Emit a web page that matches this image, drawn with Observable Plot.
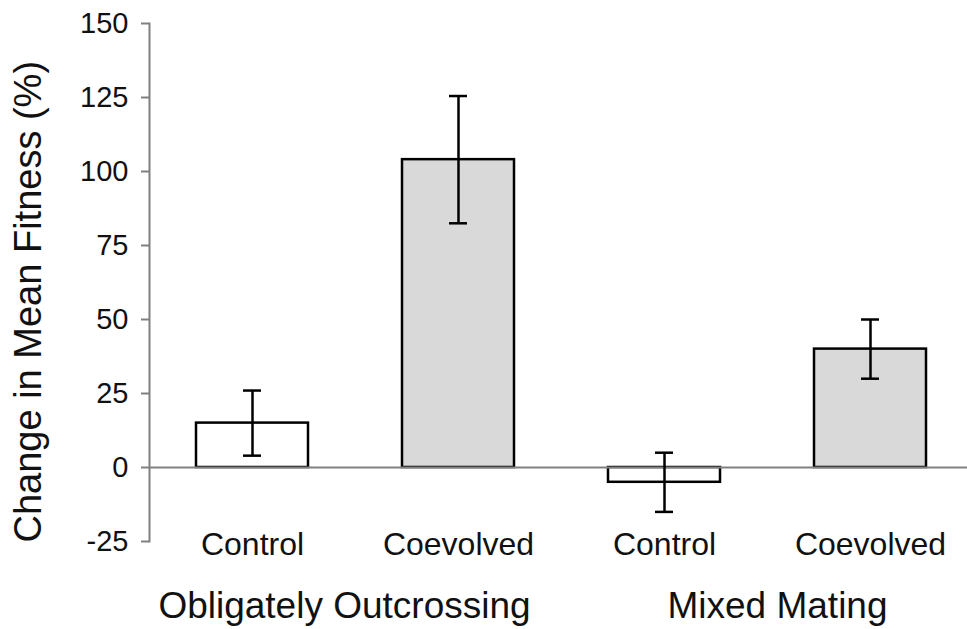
<!DOCTYPE html>
<html>
<head>
<meta charset="utf-8">
<script src="https://cdn.jsdelivr.net/npm/d3@7"></script>
<script src="https://cdn.jsdelivr.net/npm/@observablehq/plot@0.6"></script>
<style>
  html, body { margin: 0; padding: 0; background: #fff; }
</style>
</head>
<body>
<div id="chart"></div>
<script>
// Change in mean fitness by mating system and treatment (mean ± error)
const groups = ["Obligately Outcrossing", "Obligately Outcrossing", "Mixed Mating", "Mixed Mating"];
const treatments = ["Control", "Coevolved", "Control", "Coevolved"];
const meanChange = [15, 104, -5, 40];
const errorHalf = [11, 21.5, 10, 10];
const yTicks = [-25, 0, 25, 50, 75, 100, 125, 150];
const groupNames = ["Obligately Outcrossing", "Mixed Mating"];
const yLabel = "Change in Mean Fitness (%)";

const rows = treatments.map((t, i) => ({
  key: `${groups[i]} · ${t}`,
  group: groups[i],
  treatment: t,
  mean: meanChange[i],
  lo: meanChange[i] - errorHalf[i],
  hi: meanChange[i] + errorHalf[i]
}));
const keys = rows.map(d => d.key);
const treatmentOf = new Map(rows.map(d => [d.key, d.treatment]));
// each group label hangs off its first bar, shifted towards the middle of its pair
const groupRows = groupNames.map(g => ({group: g, key: rows.find(d => d.group === g).key}));
const groupShift = [92, 113];

const ink = "#111";
const axisGray = "#808080";

const chart = Plot.plot({
  width: 967,
  height: 629,
  marginLeft: 149,
  marginRight: 0,
  marginTop: 23,
  marginBottom: 88,
  style: {fontFamily: "'Liberation Sans', Arial, sans-serif", color: ink, background: "#fff"},
  x: {domain: keys, range: [149, 973], paddingInner: 0.456, paddingOuter: 0.228},
  y: {domain: [-25, 150]},
  color: {domain: ["Control", "Coevolved"], range: ["#ffffff", "#d9d9d9"]},
  marks: [
    Plot.barY(rows, {x: "key", y: "mean", fill: "treatment", stroke: "#000", strokeWidth: 2.5}),
    Plot.ruleY([0], {stroke: axisGray, strokeWidth: 2}),
    Plot.frame({anchor: "left", stroke: axisGray, strokeWidth: 2}),
    Plot.axisY({
      ticks: yTicks, tickSize: 8, tickPadding: 13, stroke: axisGray, strokeWidth: 2,
      fill: ink, fontSize: 29, label: null, tickFormat: d => String(d)
    }),
    Plot.ruleX(rows, {x: "key", y1: "lo", y2: "hi", stroke: "#000", strokeWidth: 2.5}),
    Plot.tickY(rows, {x: "key", y: "lo", inset: 47, stroke: "#000", strokeWidth: 2.5}),
    Plot.tickY(rows, {x: "key", y: "hi", inset: 47, stroke: "#000", strokeWidth: 2.5}),
    Plot.axisX({
      tickSize: 0, tickPadding: -9, fontSize: 32, fill: ink, label: null,
      tickFormat: k => treatmentOf.get(k)
    }),
    ...groupRows.map((g, i) => Plot.text([g], {
      x: "key", text: "group", frameAnchor: "bottom", lineAnchor: "top",
      dx: groupShift[i], dy: 50, fontSize: 37, fill: ink
    })),
    Plot.text([yLabel], {
      text: d => d, frameAnchor: "bottom-left", rotate: -90, textAnchor: "start",
      dx: -109, dy: 1, fontSize: 38, fill: ink
    })
  ]
});

document.getElementById("chart").appendChild(chart);
</script>
</body>
</html>
